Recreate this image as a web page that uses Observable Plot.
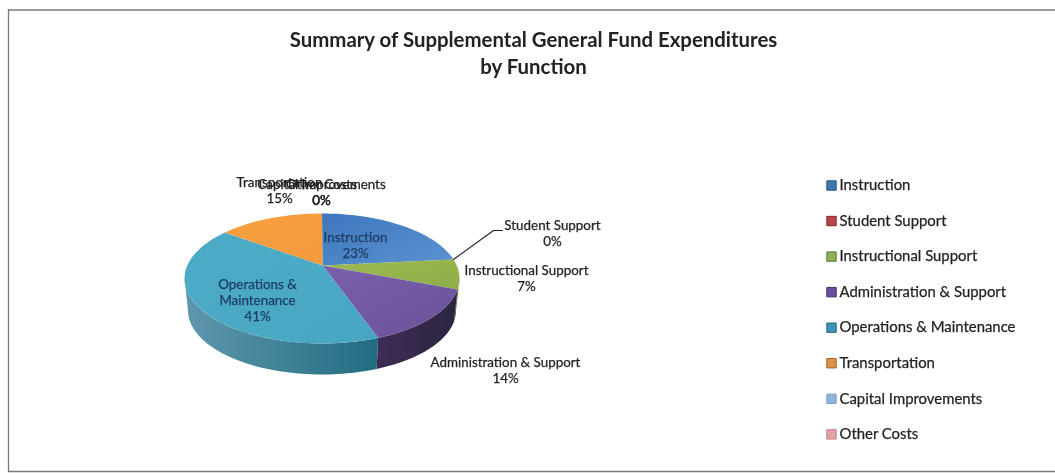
<!DOCTYPE html>
<html>
<head>
<meta charset="utf-8">
<script src="https://cdn.jsdelivr.net/npm/d3@7"></script>
<script src="https://cdn.jsdelivr.net/npm/@observablehq/plot@0.6"></script>
<style>
html,body{margin:0;padding:0;background:#fff;overflow:hidden}
svg{display:block;filter:blur(0.4px)}
</style>
</head>
<body>
<div id="chart"></div>
<script>
// ---- data ----
const categories = ["Instruction","Student Support","Instructional Support","Administration & Support","Operations & Maintenance","Transportation","Capital Improvements","Other Costs"];
const shares = [23.4, 0, 7.4, 13.7, 40.6, 14.9, 0, 0];
const legendColors = ["#3f78b0","#b8454a","#8fb05a","#6650a0","#3f95b5","#e0914a","#8fb4dc","#e2a3a5"];
const legendEdges = ["#27527f","#7f2b2f","#5f7a35","#41326e","#27667f","#a0622a","#7f9fc4","#c08487"];
const topFills = [["#3d76bb","#5b93d2"],["#c0504d","#c0504d"],["#9dba50","#8fae48"],["#7a60ad","#6a5199"],["#4cacc8","#48a6c2"],["#f9a03f","#f39a40"],["#8fb4dc","#8fb4dc"],["#e2a3a5","#e2a3a5"]];
const wallFills = [["#2f5b90","#2f5b90"],["#8a3a38","#8a3a38"],["#5c7030","#4a5c28"],["#3e2c55","#2c2440"],["#5f97ad","#226c80"],["#b06a20","#b06a20"],["#6a88aa","#6a88aa"],["#a87c7e","#a87c7e"]];
const labelLines = [["Instruction"],["Student Support"],["Instructional Support"],["Administration & Support"],["Operations &","Maintenance"],["Transportation"],["Capital Improvements"],["Other Costs"]];
const labelX = [355,552,526,505,257,279,321,321];
const labelY = [244,232,277,369,299,189,191,191];
const labelInk = ["#1d3c66","#222","#222","#222","#1d3c66","#222","#222","#222"];
const title = "Summary of Supplemental General Fund Expenditures\nby Function";

// ---- pie geometry, derived from the shares ----
const top3d = {cx:321.5, cy:278, rx:137.5, ry:65};
const bottom3d = {cx:321.5, cy:310, rx:134, ry:64};
const apex = {x:322, y:265};
const tilt = 0.10; // perspective: rim angles are bent around the far side
const bend = t => {
  const c = Math.cos(t), s = Math.sin(t);
  const nr = c + tilt, ni = s, dr = 1 + tilt*c, di = tilt*s;
  let a = Math.atan2(ni,nr) - Math.atan2(di,dr);
  if (a < 0) a += 2*Math.PI;
  return a;
};
const rim = (e,phi) => ({x:e.cx + e.rx*Math.sin(phi), y:e.cy - e.ry*Math.cos(phi)});
const total = d3.sum(shares);
let run = 0;
const slices = shares.map((v,i) => {
  const t0 = run/total*2*Math.PI; run += v;
  const t1 = run/total*2*Math.PI;
  const p0 = i === 0 ? 0 : (t0 >= 2*Math.PI - 1e-9 ? 2*Math.PI : bend(t0));
  const p1 = t1 >= 2*Math.PI - 1e-9 ? 2*Math.PI : bend(t1);
  return {i, v, p0, p1};
});
const arcSteps = (a,b) => d3.range(0,61).map(k => a + (b-a)*k/60);
const topPoly = s => [apex, ...arcSteps(s.p0,s.p1).map(p => rim(top3d,p))];
const wallPoly = s => {
  const a = Math.max(s.p0,Math.PI/2), b = Math.min(s.p1,3*Math.PI/2);
  if (b <= a) return [];
  const st = arcSteps(a,b);
  return [...st.map(p => rim(top3d,p)), ...st.slice().reverse().map(p => rim(bottom3d,p))];
};
const lead = rim(top3d, slices[1].p0);

// ---- gradients ----
const defs = () => {
  const d = d3.create("svg:defs");
  const grad = (id,[a,b],x2,y2) => {
    const g = d.append("linearGradient").attr("id",id).attr("x1",0).attr("y1",0).attr("x2",x2).attr("y2",y2);
    g.append("stop").attr("offset",0).attr("stop-color",a);
    g.append("stop").attr("offset",1).attr("stop-color",b);
  };
  topFills.forEach((c,i) => grad("top"+i,c,1,1));
  wallFills.forEach((c,i) => grad("wall"+i,c,1,0));
  return d.node();
};

// ---- tables for marks ----
const lineRows = slices.map(s => ({i:s.i, text:[...labelLines[s.i], Math.round(s.v/total*100)+"%"].join("\n")}));
const legendStep = 35.55, legendTop = 185, legendSwatchX = 831, legendTextX = 839;
const legendRows = categories.map((c,i) => ({c, i, y:legendTop + i*legendStep}));
const F = "Lato, 'Open Sans', sans-serif";

const plot = Plot.plot({
  width:1055, height:473, margin:0,
  x:{domain:[0,1055], range:[0,1055], axis:null},
  y:{domain:[0,473], range:[0,473], axis:null},
  style:{background:"#fff", fontFamily:F},
  color:{type:"identity"},
  marks:[
    defs,
    // chart frame
    Plot.ruleY([9.5],{x1:8, x2:1055, stroke:"#777", strokeWidth:1.3}),
    Plot.ruleY([471],{x1:8, x2:1055, stroke:"#777", strokeWidth:1.3}),
    Plot.ruleX([8],{y1:9.5, y2:471, stroke:"#777", strokeWidth:1.3}),
    // title
    Plot.text([title],{x:()=>533, y:()=>51.5, text:d=>d, fontSize:20.4, fontWeight:"bold", fill:"#222", lineHeight:1.32, textAnchor:"middle"}),
    // walls
    ...slices.map(s => Plot.line(wallPoly(s),{x:"x",y:"y",fill:`url(#wall${s.i})`,stroke:"none"})),
    // tops
    ...slices.map(s => Plot.line(topPoly(s),{x:"x",y:"y",fill:`url(#top${s.i})`,stroke:"none"})),
    // leader for the zero share slice
    Plot.line([lead,{x:493,y:230},{x:502,y:230}],{x:"x",y:"y",stroke:"#222",strokeWidth:1.1}),
    // labels
    Plot.text(lineRows,{x:d=>labelX[d.i], y:d=>labelY[d.i], text:"text", fill:d=>labelInk[d.i], stroke:d=>labelInk[d.i], strokeWidth:0.25, fontSize:13.4, lineHeight:1.19, textAnchor:"middle"}),
    // legend
    Plot.dot(legendRows,{x:()=>legendSwatchX, y:"y", symbol:"square", r:5.3, fill:d=>legendColors[d.i], stroke:d=>legendEdges[d.i], strokeWidth:1}),
    Plot.text(legendRows,{x:()=>legendTextX, y:"y", text:"c", textAnchor:"start", fontSize:14.9, fill:"#222", stroke:"#222", strokeWidth:0.25})
  ]
});
document.getElementById("chart").append(plot);
</script>
</body>
</html>
